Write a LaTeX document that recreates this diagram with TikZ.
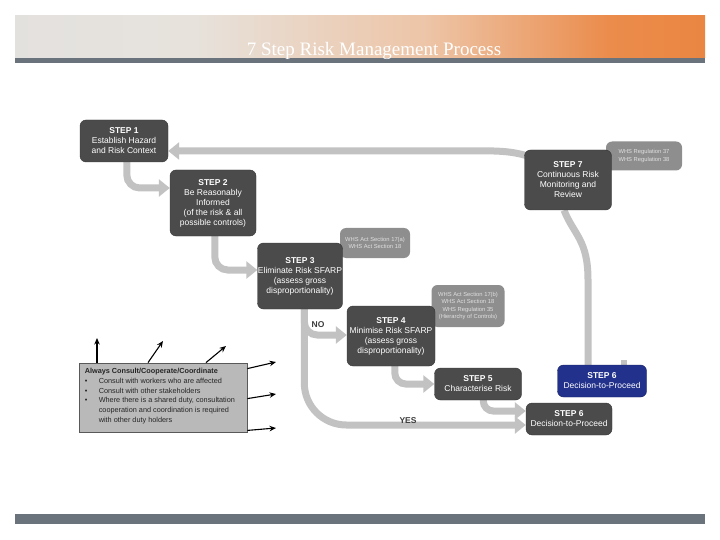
\documentclass[tikz,border=0pt]{standalone}
\usepackage{fontspec}
\setmainfont{Liberation Sans}
\newfontfamily\titlefont{Liberation Serif}
\usetikzlibrary{arrows.meta}
\definecolor{stepgrey}{HTML}{4B4B4B}
\definecolor{whsgrey}{HTML}{8E8E8E}
\definecolor{argrey}{HTML}{C2C2C2}
\definecolor{navy}{HTML}{22318C}
\definecolor{consultfill}{HTML}{B9B9B9}
\definecolor{stripgrey}{HTML}{6A727B}
\definecolor{bl1}{HTML}{DCE0E3}
\definecolor{bl2}{HTML}{E7E2DC}
\definecolor{bl3}{HTML}{EDC4A6}
\definecolor{or1}{HTML}{EB8C4C}
\definecolor{or2}{HTML}{E8701F}
\pgfdeclarehorizontalshading{banner}{100bp}{color(0bp)=(bl1); color(38bp)=(bl2); color(55bp)=(bl3); color(68bp)=(or1); color(100bp)=(or2)}
\pgfdeclarelayer{bg}
\pgfsetlayers{bg,main}
\tikzset{
  stepbox/.style={fill=stepgrey, draw=stepgrey!70!black, rounded corners=6pt, text=white,
    font=\fontsize{8.5}{10}\selectfont, align=center, inner sep=0pt},
  bluebox/.style={stepbox, fill=navy, draw=navy!70!black},
  whsbox/.style={fill=whsgrey, rounded corners=6pt, text=white!88!black,
    font=\fontsize{5.8}{7.5}\selectfont, align=center, inner sep=0pt},
  garrow/.style={draw=argrey, line width=7pt, -{Triangle[length=11pt,width=17pt]}},
  gline/.style={draw=argrey, line width=7pt},
  lbl/.style={font=\bfseries\fontsize{8.5}{10}\selectfont, text=stepgrey!80!black},
  barrow/.style={draw=black, line width=1.1pt, -{Stealth[length=6.5pt,width=5.5pt]}},
  consultbox/.style={fill=consultfill, draw=black!65, line width=0.8pt, inner sep=0pt,
    font=\fontsize{7.3}{9.8}\selectfont, text=black!85}
}
\begin{document}
\begin{tikzpicture}[x=1pt,y=-1pt]
\useasboundingbox (0,0) rectangle (720,540);
% banner
\shade[shading=banner] (15,16) rectangle (705,58);
\fill[stripgrey] (15,58) rectangle (705,63);
\node[font=\titlefont\fontsize{19}{21}\selectfont, text=white, anchor=base] (title) at (374,55.5) {7 Step Risk Management Process};
\fill[stripgrey] (15,514) rectangle (705,524);

% WHS boxes (behind steps)
\node[whsbox, minimum width=70pt, minimum height=30pt] (w3) at (375,243) {WHS Act Section 17(a)\\WHS Act Section 18};
\node[whsbox, minimum width=73pt, minimum height=42pt] (w4) at (468,306) {WHS Act Section 17(b)\\WHS Act Section 18\\WHS Regulation 35\\(Hierarchy of Controls)};
\node[whsbox, minimum width=76pt, minimum height=29pt] (w7) at (644,156) {WHS Regulation 37\\WHS Regulation 38};

% step nodes
\node[stepbox, minimum width=88pt, minimum height=42pt] (s1) at (124,141) {\textbf{STEP 1}\\Establish Hazard\\and Risk Context};
\node[stepbox, minimum width=86pt, minimum height=66pt] (s2) at (213,203) {\textbf{STEP 2}\\Be Reasonably\\Informed\\(of the risk \& all\\possible controls)};
\node[stepbox, minimum width=85pt, minimum height=66pt] (s3) at (300,276) {\textbf{STEP 3}\\Eliminate Risk SFARP\\(assess gross\\disproportionality)};
\node[stepbox, minimum width=88pt, minimum height=60pt] (s4) at (391,336) {\textbf{STEP 4}\\Minimise Risk SFARP\\(assess gross\\disproportionality)};
\node[stepbox, minimum width=87pt, minimum height=32pt] (s5) at (478,384) {\textbf{STEP 5}\\Characterise Risk};
\node[bluebox, minimum width=89pt, minimum height=32pt] (s6b) at (602,381) {\textbf{STEP 6}\\Decision-to-Proceed};
\node[stepbox, minimum width=86pt, minimum height=32pt] (s6) at (569,419) {\textbf{STEP 6}\\Decision-to-Proceed};
\node[stepbox, minimum width=87pt, minimum height=60pt] (s7) at (568,180) {\textbf{STEP 7}\\Continuous Risk\\Monitoring and\\Review};

% labels
\node[lbl] (no) at (318,325) {NO};
\node[lbl] (yes) at (408,421) {YES};

% consult box
\node[consultbox, minimum width=168pt, minimum height=69pt] (consult) at (163,397.5) {};
\node[anchor=north west, font=\bfseries\fontsize{7.3}{9.8}\selectfont, text=black!85, inner sep=0pt] (ch) at ([xshift=6pt,yshift=-5pt]consult.north west) {Always Consult/Cooperate/Coordinate};
\node[anchor=north west, font=\fontsize{7.3}{9.8}\selectfont, text=black!85, inner sep=0pt, align=left] (cb) at ([yshift=-3pt]ch.south west)
 {\makebox[14pt][l]{\textbullet}Consult with workers who are affected\\
  \makebox[14pt][l]{\textbullet}Consult with other stakeholders\\
  \makebox[14pt][l]{\textbullet}Where there is a shared duty, consultation\\
  \hspace*{14pt}cooperation and coordination is required\\
  \hspace*{14pt}with other duty holders};
\coordinate (c1) at (97,338);
\coordinate (c2) at (163,341);
\coordinate (c3) at (226,346);
\coordinate (c4) at (276,362);
\coordinate (c5) at (276,394);
\coordinate (c6) at (276,428);
\draw[barrow] (consult.north -| c1) -- (c1);
\draw[barrow] ([xshift=-15pt]consult.north) -- (c2);
\draw[barrow] ([xshift=43pt]consult.north) -- (c3);
\draw[barrow] ([yshift=-6pt]consult.north east) -- (c4);
\draw[barrow] ([yshift=-36pt]consult.north east) -- (c5);
\draw[barrow] ([yshift=2pt]consult.south east) -- (c6);

% grey connectors behind boxes
\begin{pgfonlayer}{bg}
\draw[garrow, rounded corners=13pt] ([xshift=47pt]s1.south west) |- ([yshift=15pt]s2.west);
\draw[garrow, rounded corners=13pt] ([xshift=45pt]s2.south west) |- ([yshift=6pt]s3.west);
\draw[garrow, rounded corners=13pt] ([xshift=47pt]s3.south west) |- ([yshift=1pt]s4.west);
\draw[garrow, rounded corners=42pt] ([xshift=47pt]s3.south west) |- ([yshift=-6pt]s6.west);
\draw[garrow, rounded corners=11pt] ([xshift=48pt]s4.south west) |- ([yshift=0pt]s5.west);
\draw[garrow, rounded corners=10pt] ([xshift=49pt]s5.south west) |- ([yshift=8pt]s6.west);
\draw[gline] ([xshift=-14pt]s6b.north) -- ++(0,-85) .. controls ++(0,-40) and ++(10,25) .. ([xshift=-4pt]s7.south);
\draw[garrow] ([xshift=-25pt,yshift=-12pt]s7.north) .. controls ++(-25,-11) and ++(30,0) .. ([xshift=-95pt,yshift=-1pt]s7.north) -- ([yshift=-10pt]s1.east);
\draw[gline, line width=6pt] ([xshift=22pt]s6b.north) -- ++(0,-5);
\end{pgfonlayer}
\end{tikzpicture}
\end{document}
